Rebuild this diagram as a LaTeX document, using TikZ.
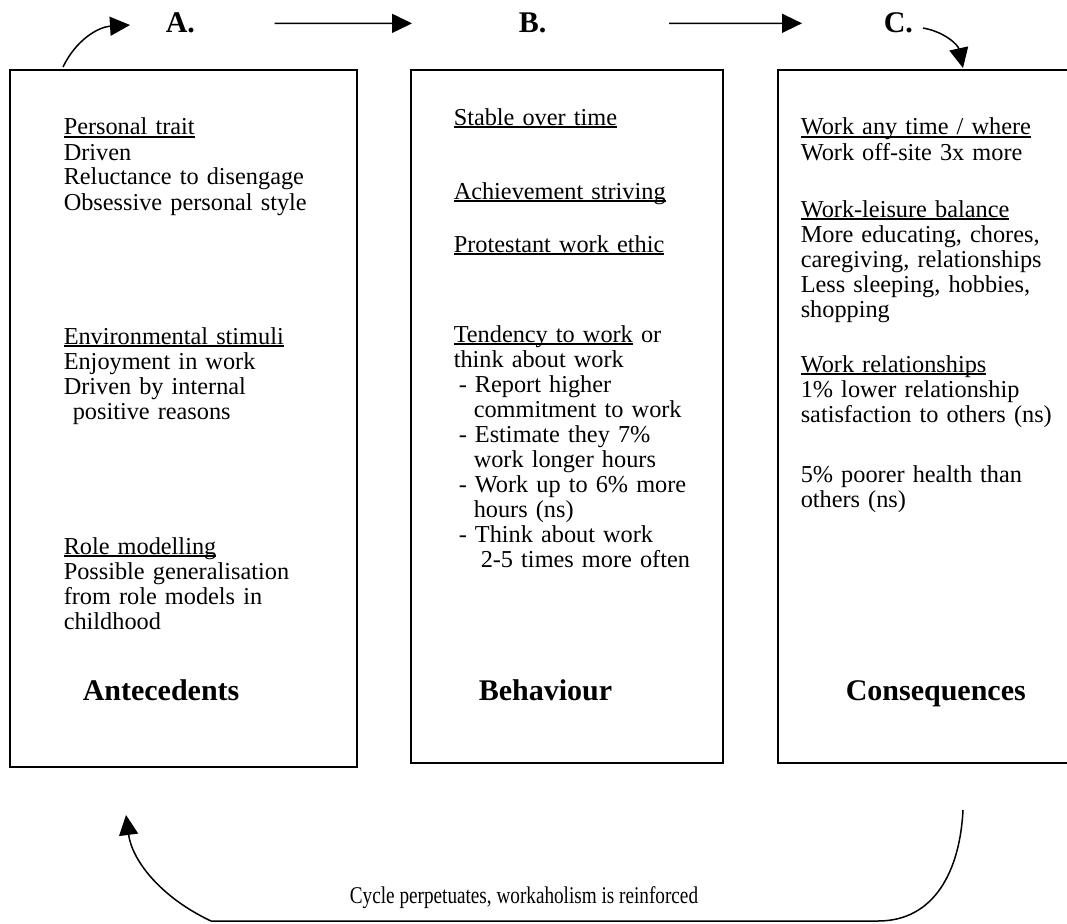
\documentclass[tikz,border=0pt]{standalone}
\usepackage{fontspec}
\setmainfont{Liberation Serif}
\usetikzlibrary{arrows.meta}
\newcommand{\undl}[1]{\setbox0\hbox{#1}\rlap{\rule[-2.5pt]{\wd0}{1.1pt}}\box0\relax}

\begin{document}
\begin{tikzpicture}[x=1pt,y=-1pt,line width=1.5pt,>={Triangle[length=20pt,width=19pt]}]
\tikzstyle{panel}=[draw=black,line width=1.5pt,inner sep=0pt]
\tikzstyle{body}=[anchor=base west,inner sep=0pt,text width=300pt,align=left,font=\fontsize{24.3}{25}\selectfont]
\tikzstyle{title}=[anchor=base west,inner sep=0pt,font=\fontsize{30}{32}\selectfont\bfseries]
\path[use as bounding box] (0,0) rectangle (1067,923);
\clip (0,0) rectangle (1067,923);
\node[panel,minimum width=347pt,minimum height=697pt] (ante) at (183.5,418.5) {};
\node[panel,minimum width=312pt,minimum height=693pt] (behav) at (567,416.5) {};
\node[panel,minimum width=302pt,minimum height=693pt] (conseq) at (929,416.5) {};
\node[title] (lblA) at (165,33) {A.};
\node[title] (lblB) at (518,33) {B.};
\node[title] (lblC) at (883,33) {C.};
\node[body] (trait) at (63,135) {\undl{Personal trait}\\Driven\\Reluctance to disengage\\Obsessive personal style};
\node[body] (stimuli) at (63,344) {\undl{Environmental stimuli}\\Enjoyment in work\\Driven by internal\\\hspace*{9pt}positive reasons};
\node[body] (rolemod) at (63,554) {\undl{Role modelling}\\Possible generalisation\\from role models in\\childhood};
\node[title] (anteTitle) at (82,700) {Antecedents};
\node[body] (stable) at (453,125) {\undl{Stable over time}};
\node[body] (achieve) at (453,199) {\undl{Achievement striving}};
\node[body] (ethic) at (453,252) {\undl{Protestant work ethic}};
\node[body] (tendency) at (453,342) {\undl{Tendency to work} or\\think about work\\\hspace*{5pt}- Report higher\\\hspace*{20pt}commitment to work\\\hspace*{5pt}- Estimate they 7\%\\\hspace*{20pt}work longer hours\\\hspace*{5pt}- Work up to 6\% more\\\hspace*{20pt}hours (ns)\\\hspace*{5pt}- Think about work\\\hspace*{27pt}2-5 times more often};
\node[title] (behavTitle) at (478,700) {Behaviour};
\node[body] (anytime) at (800,135) {\undl{Work any time / where}\\Work off-site 3x more};
\node[body] (balance) at (800,217) {\undl{Work-leisure balance}\\More educating, chores,\\caregiving, relationships\\Less sleeping, hobbies,\\shopping};
\node[body] (relations) at (800,372) {\undl{Work relationships}\\1\% lower relationship\\satisfaction to others (ns)};
\node[body] (health) at (800,482) {5\% poorer health than\\others (ns)};
\node[title] (conseqTitle) at (845,700) {Consequences};
\node[anchor=base,inner sep=0pt,font=\fontsize{24}{26}\selectfont] (cycle) at (524,903) {\scalebox{0.8}[1]{Cycle perpetuates, workaholism is reinforced}};
\coordinate (startA) at (63,67);
\coordinate (tipA) at (130,25);
\coordinate (startC) at (923,28);
\coordinate (tipC) at (963,68);
\coordinate (loopR) at (963,810);
\coordinate (loopL) at (126,815);
\draw[->] (startA) .. controls (76,40) and (98,27) .. (tipA);
\draw[->,shorten <=79pt,shorten >=106pt] (lblA.east) -- (lblB.west);
\draw[->,shorten <=122pt,shorten >=81pt] (lblB.east) -- (lblC.west);
\draw[->] (startC) .. controls (945,32) and (958,45) .. (tipC);
\draw[->] (loopR) .. controls (960,870) and (935,921) .. (878,921) -- (211,921) .. controls (160,897) and (132,860) .. (loopL);
\end{tikzpicture}
\end{document}
